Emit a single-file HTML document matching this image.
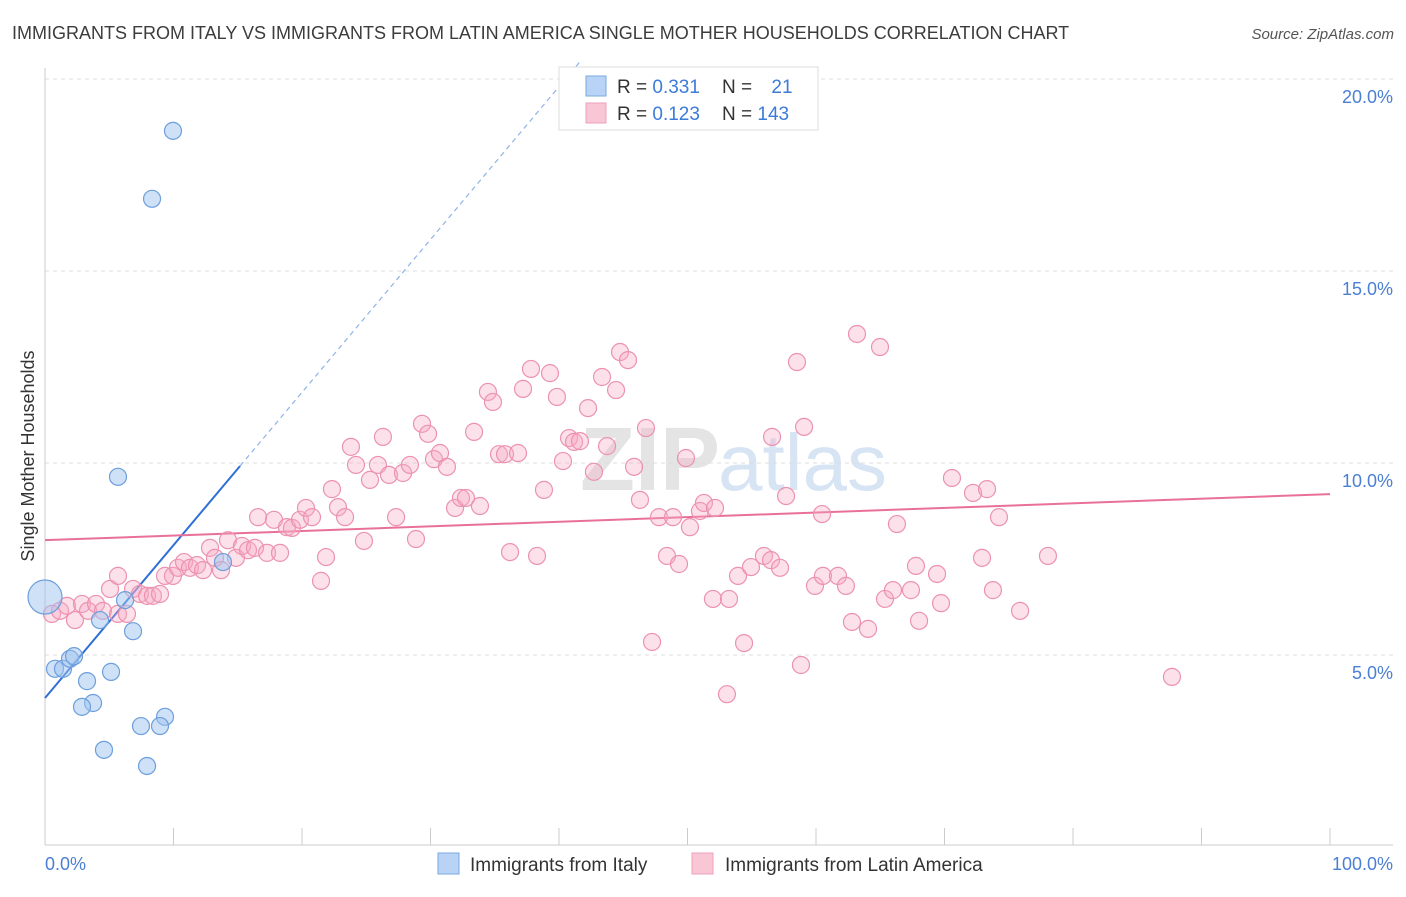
<!DOCTYPE html>
<html><head><meta charset="utf-8"><style>
body{margin:0;background:#fff;font-family:"Liberation Sans",sans-serif;}
svg text{font-family:"Liberation Sans",sans-serif;}
</style></head><body>
<svg id="chart" width="1406" height="892">
<text x="12" y="39" font-size="18" fill="#3c3c3c">IMMIGRANTS FROM ITALY VS IMMIGRANTS FROM LATIN AMERICA SINGLE MOTHER HOUSEHOLDS CORRELATION CHART</text>
<text x="1394" y="39" font-size="15" fill="#555" text-anchor="end" font-style="italic">Source: ZipAtlas.com</text>
<text x="720" y="490" font-size="90" fill="#e4e4e4" text-anchor="end" font-family="Liberation Serif" font-weight="bold">ZIP</text>
<text x="718" y="490" font-size="80" fill="#d7e4f4">atlas</text>
<g id="grid"></g><g id="axes"></g><g id="trend"></g><g id="points"></g>
<text transform="translate(34,456) rotate(-90)" font-size="18" fill="#333" text-anchor="middle">Single Mother Households</text>
<text x="45" y="870" font-size="18" fill="#4a7fd4">0.0%</text>
<text x="1393" y="870" font-size="18" fill="#4a7fd4" text-anchor="end">100.0%</text>
<g>
<rect x="559" y="67" width="259" height="63" fill="#fff" stroke="#ddd"/>
<rect x="586" y="76" width="20" height="20" fill="#b8d3f5" stroke="#7aa8e0"/>
<rect x="586" y="103" width="20" height="20" fill="#f9c6d6" stroke="#eea0ba"/>
<text x="617" y="93" font-size="19" fill="#333">R = <tspan fill="#3c7bd8">0.331</tspan></text>
<text x="722" y="93" font-size="19" fill="#333">N = <tspan fill="#3c7bd8" dx="14">21</tspan></text>
<text x="617" y="120" font-size="19" fill="#333">R = <tspan fill="#3c7bd8">0.123</tspan></text>
<text x="722" y="120" font-size="19" fill="#333">N = <tspan fill="#3c7bd8">143</tspan></text>
</g>
<g>
<rect x="438" y="853" width="21" height="21" fill="#b8d3f5" stroke="#7aa8e0"/>
<text x="470" y="871" font-size="19" fill="#333">Immigrants from Italy</text></g>
<g>
<rect x="692" y="853" width="21" height="21" fill="#f9c6d6" stroke="#eea0ba"/>
<text x="725" y="871" font-size="19" fill="#333">Immigrants from Latin America</text></g>
</svg>
<script>
const yTicks=[5,10,15,20];
const yTickLabels=["5.0%","10.0%","15.0%","20.0%"];
const italyX=[0,9.96,8.33,5.68,6.23,4.28,6.85,0.78,1.40,1.95,2.26,5.14,3.27,3.74,2.88,13.85,9.34,7.47,8.95,4.59,7.94];
const italyY=[6.51,18.65,16.88,9.64,6.43,5.91,5.62,4.64,4.64,4.90,4.97,4.56,4.32,3.75,3.65,7.42,3.39,3.15,3.15,2.53,2.11];
const latX=[0.54,1.17,1.71,2.33,2.88,3.35,3.97,4.51,5.06,5.68,5.68,6.38,6.85,7.39,7.94,8.40,8.95,9.34,9.96,10.35,10.82,11.28,11.83,12.30,12.84,13.23,13.70,14.24,14.86,15.33,15.80,16.34,16.58,17.28,17.82,18.29,18.83,19.22,19.84,20.31,20.78,21.48,21.87,22.33,22.80,23.35,23.81,24.20,24.82,25.29,25.91,26.30,26.77,27.32,27.86,28.40,28.87,29.34,29.81,30.27,30.74,31.28,31.91,32.37,32.76,33.39,33.85,34.47,34.86,35.33,35.80,36.19,36.81,37.20,37.82,38.29,38.83,39.30,39.84,40.31,40.78,41.17,41.63,42.26,42.72,43.35,43.74,44.44,44.75,45.37,45.84,46.30,46.77,47.24,47.78,48.40,48.87,49.34,49.88,50.19,50.97,51.28,51.98,52.14,53.07,53.23,53.93,54.40,54.94,55.95,56.50,56.58,57.20,57.67,58.52,58.83,59.07,59.92,60.47,60.54,61.71,62.33,62.80,63.19,64.05,64.98,65.37,65.99,66.30,67.39,67.78,68.02,69.42,69.73,70.58,72.22,72.92,73.31,73.77,74.24,75.88,78.05,87.70];
const latY=[6.07,6.15,6.28,5.91,6.33,6.15,6.33,6.15,6.72,7.06,6.07,6.07,6.72,6.59,6.54,6.54,6.59,7.06,7.06,7.27,7.42,7.27,7.34,7.21,7.79,7.53,7.21,7.99,7.53,7.84,7.73,7.79,8.59,7.66,8.52,7.66,8.33,8.31,8.52,8.83,8.59,6.93,7.55,9.32,8.85,8.59,10.42,9.95,7.97,9.56,9.95,10.68,9.69,8.59,9.74,9.95,8.02,11.02,10.76,10.10,10.26,9.90,8.83,9.09,9.09,10.81,8.88,11.85,11.59,10.23,10.23,7.68,10.26,11.93,12.45,7.58,9.30,12.34,11.72,10.05,10.65,10.55,10.57,11.43,9.77,12.24,10.44,11.90,12.89,12.68,9.90,9.04,10.91,5.34,8.59,7.58,8.59,7.37,10.13,8.33,8.75,8.96,6.46,8.83,3.98,6.46,7.06,5.31,7.29,7.58,7.47,10.68,7.27,9.14,12.63,4.74,10.94,6.80,8.67,7.06,7.06,6.80,5.86,13.36,5.68,13.02,6.46,6.69,8.41,6.69,7.32,5.89,7.11,6.35,9.61,9.22,7.53,9.32,6.69,8.59,6.15,7.58,4.43];
const italyTrend=[3.88,0.398];
const latTrend=[7.99,0.012];
const NS="http://www.w3.org/2000/svg";
const X=v=>45+v*12.85, Y=v=>847-v*38.4;
function mk(t,a,p){const e=document.createElementNS(NS,t);for(const k in a)e.setAttribute(k,a[k]);p.appendChild(e);return e;}
const grid=document.getElementById('grid'),axes=document.getElementById('axes'),trend=document.getElementById('trend'),pts=document.getElementById('points');
yTicks.forEach((t,i)=>{
 const l=mk('line',{x1:45,x2:1393,y1:Y(t),y2:Y(t),stroke:'#ddd','stroke-dasharray':'4,4'},grid);
 
 
 const tx=mk('text',{x:1393,y:Y(t)+24,'font-size':18,fill:'#4a7fd4','text-anchor':'end'},grid);
 tx.textContent=yTickLabels[i];
 
 
});
const yl=mk('line',{x1:45,x2:45,y1:68,y2:845,stroke:'#ccc'},axes);


const xl=mk('line',{x1:45,x2:1393,y1:845,y2:845,stroke:'#ccc'},axes);


for(let k=0;k<=10;k++){
 const tk=mk('line',{x1:X(k*10),x2:X(k*10),y1:828,y2:845,stroke:'#ccc'},axes);
 
 
}
const xEnd=15.18;
const b1=mk('line',{x1:X(0),y1:Y(italyTrend[0]),x2:X(xEnd),y2:Y(italyTrend[0]+italyTrend[1]*xEnd),stroke:'#2f6fd6','stroke-width':2},trend);


const xTop=(20.5-italyTrend[0])/italyTrend[1];
const b2=mk('line',{x1:X(xEnd),y1:Y(italyTrend[0]+italyTrend[1]*xEnd),x2:X(xTop),y2:Y(20.5),stroke:'#8fb3e8','stroke-width':1.2,'stroke-dasharray':'5,4'},trend);


latX.forEach((x,i)=>{
 const c=mk('circle',{cx:X(x),cy:Y(latY[i]),r:8.5,fill:'rgba(246,170,196,0.35)',stroke:'#ec92b0','stroke-width':1.2},pts);
 
 
});
italyX.forEach((x,i)=>{
 const c=mk('circle',{cx:X(x),cy:Y(italyY[i]),r:i===0?17:8.5,fill:'rgba(160,196,240,0.5)',stroke:'#6c9fdc','stroke-width':1.2},pts);
 
 
});
const p=mk('line',{x1:X(0),y1:Y(latTrend[0]),x2:X(100),y2:Y(latTrend[0]+latTrend[1]*100),stroke:'#e8709a','stroke-width':2},trend);


</script>
</body></html>
